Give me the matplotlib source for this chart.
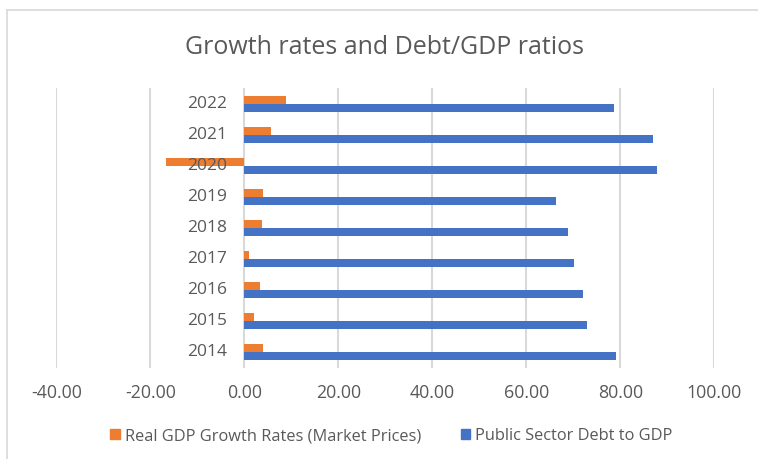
import numpy as np
import matplotlib.pyplot as plt
from matplotlib.lines import Line2D
from matplotlib.patches import Patch

years = ['2014', '2015', '2016', '2017', '2018', '2019', '2020', '2021', '2022']
gdp_growth = [3.9, 2.0, 3.3, 0.9, 3.7, 3.9, -16.7, 5.6, 8.9]
debt_to_gdp = [79.1, 72.9, 72.1, 70.1, 68.8, 66.3, 87.9, 86.9, 78.7]
x_ticks = [-40, -20, 0, 20, 40, 60, 80, 100]

orange = '#ED7D31'
blue = '#4472C4'
grey_text = '#595959'
font = ['Open Sans', 'DejaVu Sans']

plt.rcParams['font.family'] = font

fig = plt.figure(figsize=(7.58, 4.59), dpi=100)
ax = fig.add_axes([0.0743, 0.1993, 0.8680, 0.6079])

y = np.arange(len(years))
h = 0.26
ax.barh(y + h / 2, gdp_growth, height=h, color=orange, zorder=3)
ax.barh(y - h / 2, debt_to_gdp, height=h, color=blue, zorder=3)

ax.set_xlim(-40, 100)
ax.set_ylim(-0.5, len(years) - 0.5)
ax.set_xticks(x_ticks)
ax.set_xticklabels([f'{v:.2f}' for v in x_ticks], color=grey_text, fontsize=12.8)
ax.tick_params(axis='x', length=0, pad=12)
ax.set_yticks([])
ax.grid(axis='x', color='#d9d9d9', linewidth=1.5, zorder=0)
for s in ax.spines.values():
    s.set_visible(False)

# category labels sit just left of the zero line, as in Excel
for yi, lab in zip(y, years):
    ax.annotate(lab, xy=(0, yi), xytext=(-12.5, 0), textcoords='offset points',
                ha='right', va='center', fontsize=12.5, color=grey_text, zorder=4)

fig.text(0.507, 0.897, 'Growth rates and Debt/GDP ratios', ha='center', va='center',
         fontsize=18, color=grey_text)

handles = [Patch(color=orange), Patch(color=blue)]
fig.legend(handles, ['Real GDP Growth Rates (Market Prices)', 'Public Sector Debt to GDP'],
           loc='center', bbox_to_anchor=(0.5165, 0.05), ncol=2, frameon=False,
           fontsize=11.8, labelcolor=grey_text, handlelength=0.6, handleheight=0.6,
           handletextpad=0.3, columnspacing=2.4)

# chart border (top and left edges visible)
fig.add_artist(Line2D([7 / 758, 1], [1 - 10 / 459] * 2, color='#d9d9d9', lw=1.2))
fig.add_artist(Line2D([7 / 758] * 2, [0, 1 - 10 / 459], color='#d9d9d9', lw=1.2))

fig.savefig('out.png', dpi=100)
